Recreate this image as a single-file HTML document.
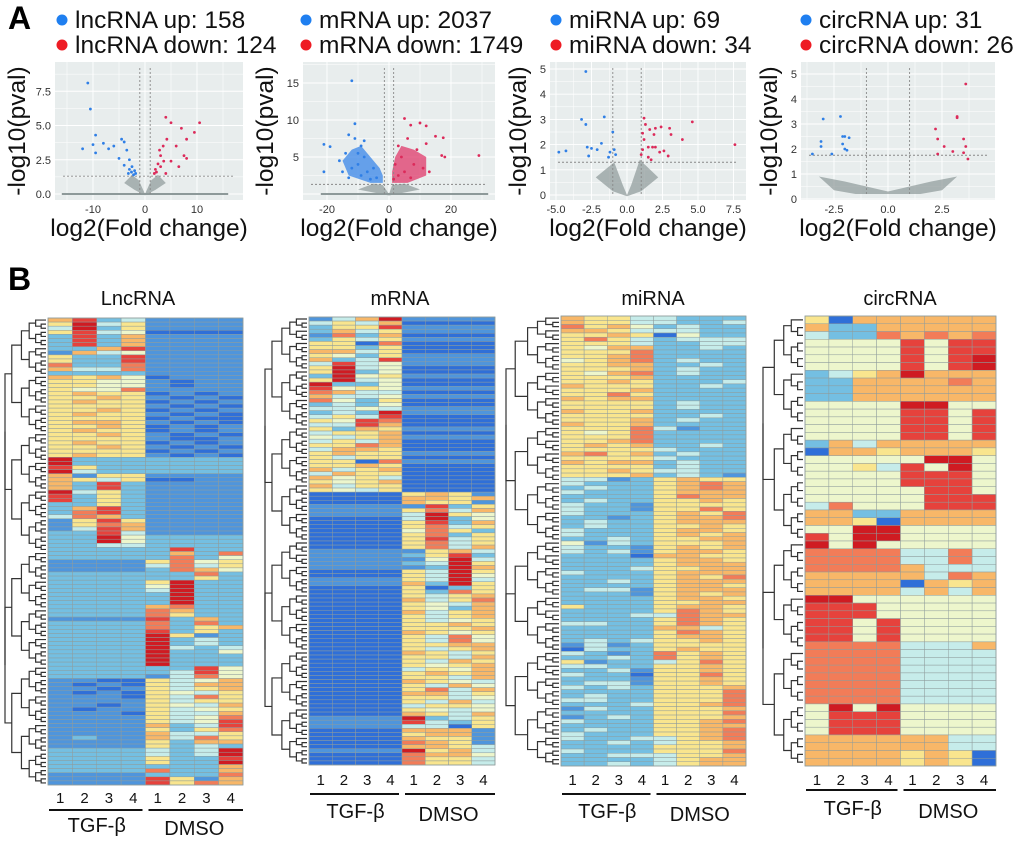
<!DOCTYPE html>
<html><head><meta charset="utf-8"><style>
html,body{margin:0;padding:0;background:#fff;}
svg{display:block;font-family:"Liberation Sans",Arial,sans-serif;}
</style></head><body>
<svg id="fig" width="1020" height="844" viewBox="0 0 1020 844" xmlns="http://www.w3.org/2000/svg">
<text x="8" y="29" font-size="32" font-weight="bold">A</text>
<text x="8" y="290" font-size="32" font-weight="bold">B</text>
<g id="volcanoes"></g>
<g id="heatmaps"></g>
</svg>
<script>
const NS="http://www.w3.org/2000/svg";
// ---------- Volcano data ----------
const lncBlue=[[-11,8.1],[-10.5,6.2],[-12,3.3],[-9.5,4.3],[-10,3.6],[-9.5,3.0],[-8,3.7],[-7,3.3],[-6,3.5],[-4.5,4],[-4,3.8],[-3.5,3.2],[-3,2.5],[-2.5,2],[-2,1.7],[-3,1.8],[-2.2,1.4],[-4,2.1],[-1.8,1.5],[-2.6,1.6],[-5,2.6],[-3.2,1.5]];
const lncRed=[[4,5.6],[5,5.2],[7,4.8],[10.5,5.2],[8,4.0],[9.5,4.5],[4.2,4.0],[3.5,3.5],[6,3.5],[7.5,2.8],[8,2.6],[3,2.8],[2.5,2.2],[2,1.8],[1.8,1.5],[2.2,1.6],[3,2.0],[5,2.4],[4,1.5],[6.5,2.0],[2.8,3.2],[3.6,2.4]];
const mBlue=[[-12,15.3],[-11,9.5],[-21,6.7],[-19,6.4],[-21,3],[-13,8],[-11,7.5],[-9,6.5],[-14,5.5],[-16,4.5],[-10,4],[-8,5],[-7,3],[-12,3.5],[-9,2.5],[-6,2],[-5,3.5],[-4,2.2],[-15,3],[-13,2.2],[-8,7.2],[-10,5.5]];
const mRed=[[5,10.2],[10,9.6],[12,9.2],[7,9.3],[15,7.8],[17.5,7.6],[29,5.2],[17,5.2],[18,5],[12,6.8],[6,7.5],[9,6],[3,6.5],[4,5],[8,4],[11,3.5],[2,4],[5,3],[3,2.5],[7,2.2],[1.5,2],[13,3]];
const mBlueCloud=[[-2,1.5],[-6,1.5],[-13,2.5],[-15,4.5],[-12,6],[-9,6.5],[-6,5],[-3,3.5],[-2,2.5]];
const mRedCloud=[[1,1.5],[6,1.5],[12,2.5],[12,5],[8,6],[4,6.5],[2,5],[1,3]];
const miBlue=[[-2.9,4.9],[-3.2,3],[-2.9,2.8],[-1.6,3.1],[-4.8,1.7],[-4.3,1.75],[-2.8,1.9],[-2.5,1.85],[-2.1,1.8],[-1.8,2.05],[-2.7,1.55],[-1.3,1.5],[-1.2,1.7],[-0.9,1.8],[-0.8,1.6],[-1,2.5]];
const miRed=[[4.6,2.9],[7.6,2.0],[3.9,2.2],[3,2.65],[3.1,2.4],[2.4,2.7],[1.2,3.05],[1.3,2.8],[1.6,2.6],[1.9,2.4],[2.0,2.65],[1.1,2.45],[1.2,2.2],[1.1,1.8],[1.5,1.9],[1.8,1.9],[2.0,1.9],[2.3,1.7],[2.6,1.75],[2.9,1.55],[1.5,1.5],[1.7,1.4],[1.0,1.6]];
const ciBlue=[[-3.0,3.2],[-2.2,3.3],[-3.1,2.3],[-3.1,2.1],[-2.1,2.5],[-2.0,2.5],[-1.8,2.45],[-2.1,2.2],[-2.0,2.0],[-1.9,1.95],[-2.6,1.8],[-3.5,1.8]];
const ciRed=[[3.6,4.6],[3.2,3.3],[3.2,3.25],[2.2,2.8],[2.3,2.4],[2.6,2.1],[3.5,2.4],[3.6,2.1],[3.0,1.9],[3.5,1.85],[2.3,1.8],[3.7,1.6]];
const lncCloud=[[-2.5,1.4],[-1.2,1.0],[0,0],[1.2,1.0],[2.5,1.4],[4,0.8],[2,0.3],[0,-0.1],[-2,0.3],[-4,0.8]];
const mCloud=[[-5,1.4],[-2,1.2],[0,0],[1,1.2],[5,1.4],[10,0.6],[0,-0.2],[-10,0.6]];
const miCloud=[[-2.2,0.7],[-0.9,1.3],[-0.3,0.4],[0,0],[0.3,0.4],[0.9,1.4],[2.2,0.7],[1,0.15],[0,-0.05],[-1,0.15]];
const ciCloud=[[-3.2,0.9],[-2,0.7],[-1,0.5],[0,0.3],[1,0.5],[2,0.7],[3.2,0.9],[2.5,0.35],[1.5,0.2],[-1.5,0.2],[-2.5,0.35]];

const panels=[
 {name:"lncrna",up:"lncRNA up: 158",down:"lncRNA down: 124",lx:62,x0:55,x1:243,y0:62,y1:200,xz:145,xs:5.2,yz:194,ys:13.7,
  xt:[-10,0,10],xl:["-10","0","10"],yt:[0,2.5,5,7.5],yl:["0.0","2.5","5.0","7.5"],th:1.3,vx:[-1,1],blue:lncBlue,red:lncRed,cloud:lncCloud,base:[-16,16]},
 {name:"mrna",up:"mRNA up: 2037",down:"mRNA down: 1749",lx:306,x0:303,x1:495,y0:62,y1:200,xz:389,xs:3.1,yz:194,ys:7.4,
  xt:[-20,0,20],xl:["-20","0","20"],yt:[5,10,15],yl:["5","10","15"],th:1.3,vx:[-1.5,1.5],blue:mBlue,red:mRed,cloud:mCloud,base:[-22,32],bc:mBlueCloud,rc:mRedCloud},
 {name:"mirna",up:"miRNA up: 69",down:"miRNA down: 34",lx:556,x0:550,x1:746,y0:62,y1:200,xz:627,xs:14.2,yz:195,ys:25.2,
  xt:[-5,-2.5,0,2.5,5,7.5],xl:["-5.0","-2.5","0.0","2.5","5.0","7.5"],yt:[0,1,2,3,4,5],yl:["0","1","2","3","4","5"],th:1.3,vx:[-1,1],blue:miBlue,red:miRed,cloud:miCloud},
 {name:"circrna",up:"circRNA up: 31",down:"circRNA down: 26",lx:806,x0:801,x1:995,y0:62,y1:200,xz:888,xs:21.6,yz:199,ys:25,
  xt:[-2.5,0,2.5],xl:["-2.5","0.0","2.5"],yt:[0,1,2,3,4,5],yl:["0","1","2","3","4","5"],th:1.75,vx:[-1,1],blue:ciBlue,red:ciRed,cloud:ciCloud}
];
function mk(tag,attrs,parent,text){const e=document.createElementNS(NS,tag);for(const k in attrs)e.setAttribute(k,attrs[k]);if(text!==undefined)e.textContent=text;parent.appendChild(e);return e;}
const vg=document.getElementById('volcanoes');
panels.forEach(p=>{
 const g=mk('g',{},vg);
 
 
 const X=v=>p.xz+p.xs*v, Y=v=>p.yz-p.ys*v;
 const d1=mk('circle',{cx:p.lx,cy:20,r:5.5,fill:'#1f7ff0'},g);
 
 const t1=mk('text',{x:p.lx+13,y:28,'font-size':24.5,fill:'#111'},g,p.up);
 
 const d2=mk('circle',{cx:p.lx,cy:45,r:5.5,fill:'#ee1c24'},g);
 
 const t2=mk('text',{x:p.lx+13,y:53,'font-size':24.5,fill:'#111'},g,p.down);
 
 const bg=mk('rect',{x:p.x0,y:p.y0,width:p.x1-p.x0,height:p.y1-p.y0,fill:'#e8eded'},g);
 
 const clipId='c'+p.name;const cp=mk('clipPath',{id:clipId},g);mk('rect',{x:p.x0,y:p.y0,width:p.x1-p.x0,height:p.y1-p.y0},cp);
 const inner=mk('g',{'clip-path':'url(#'+clipId+')'},g);
 const xstep=p.xt[1]-p.xt[0], ystep=p.yt[1]-p.yt[0];
 for(let v=p.xt[0]-2*xstep;v<=p.xt[p.xt.length-1]+2*xstep+1e-9;v+=xstep/2){mk('line',{x1:X(v),x2:X(v),y1:p.y0,y2:p.y1,stroke:'#fff','stroke-width':(Math.abs((v-p.xt[0])/xstep%1)<1e-6)?0.9:0.5},inner);}
 for(let v=p.yt[0]-2*ystep;v<=p.yt[p.yt.length-1]+2*ystep+1e-9;v+=ystep/2){mk('line',{x1:p.x0,x2:p.x1,y1:Y(v),y2:Y(v),stroke:'#fff','stroke-width':(Math.abs((v-p.yt[0])/ystep%1)<1e-6)?0.9:0.5},inner);}
 const cl=mk('polygon',{points:p.cloud.map(q=>X(q[0])+','+Y(q[1])).join(' '),fill:'#8d9999',opacity:0.7},inner);
 
 if(p.base){const bl=mk('line',{x1:X(p.base[0]),x2:X(p.base[1]),y1:Y(0),y2:Y(0),stroke:'#8d9999','stroke-width':2},inner);
  }
 if(p.bc){const a=mk('polygon',{points:p.bc.map(q=>X(q[0])+','+Y(q[1])).join(' '),fill:'#3a86e8',opacity:0.75},inner);
  
  const b=mk('polygon',{points:p.rc.map(q=>X(q[0])+','+Y(q[1])).join(' '),fill:'#e0386a',opacity:0.75},inner);
  }
 mk('line',{x1:p.x0+8,x2:p.x1-8,y1:Y(p.th),y2:Y(p.th),stroke:'#888','stroke-width':0.9,'stroke-dasharray':'2,2'},inner);
 p.vx.forEach(v=>mk('line',{x1:X(v),x2:X(v),y1:p.y0+6,y2:p.y1-4,stroke:'#888','stroke-width':0.9,'stroke-dasharray':'2,2'},inner));
 p.blue.forEach(q=>{const c=mk('circle',{cx:X(q[0]),cy:Y(q[1]),r:1.4,fill:'#2f7fe6'},inner);
  });
 p.red.forEach(q=>{const c=mk('circle',{cx:X(q[0]),cy:Y(q[1]),r:1.4,fill:'#dc2a5a'},inner);
  });
 p.xt.forEach((v,i)=>{const t=mk('text',{x:X(v),y:p.y1+13,'font-size':11,'text-anchor':'middle',fill:'#333'},g,p.xl[i]);
  });
 p.yt.forEach((v,i)=>{const t=mk('text',{x:p.x0-4,y:Y(v)+4,'font-size':11,'text-anchor':'end',fill:'#333'},g,p.yl[i]);
  });
 const xt=mk('text',{x:(p.x0+p.x1)/2,y:236,'font-size':24.5,'text-anchor':'middle',fill:'#111'},g,'log2(Fold change)');
 
 const yc=p.x0-(p.name==='mirna'||p.name==='circrna'?24:30);
 const yt=mk('text',{x:yc,y:131,'font-size':24.5,'text-anchor':'middle',fill:'#111',transform:'rotate(-90 '+yc+' 131)'},g,'-log10(pval)');
 
});

// ---------- Heatmap data (levels 0=deep blue ... 9=dark red) ----------
const lncRows=["68231111","59351111","39251111","58340000","28261111","28261111","28261111","22681111","16341111","52281111","52281111","72271111","63371111","22221111","65640111","55441011","55441011","54471111",
"56550101","55651010","56550101","55551010","55650101","56551010","55550100","56651010","55650101","56550101","55651010","55551001","56550101","55651010","55550101","56551010",
"92222222","92222222","85222222","93222222","61551111","65350011","62821111","62821111","93521111","82521111","82521111","22521111","26821111","27821111","37621111","15851111","15761111","13861111","22831111","22942222","22942222","22332222",
"22222822","22222627","22222724","11115745","11113735","11112764","22222272","22222252","22225922","22224922","22223922","22222922","22222922","22222922","22226722","22227622","22227522",
"11118262","22227272","22227256","22228252","22229512","22229232","22229232","22229323","22229224","22229222","22229222","22229222","22222284","22222384","22221374",
"11005346","10105366","11015356","10105435","11105375","11115355","11015436","10115345","11105336","11115347","11115348","11116238","11115257","11116335","12116375","11115266","11115232",
"22223239","22223239","22225228","22225229","22222226","22227226","11112227","11118516","11118576"];
const mRows=["13691111","35360000","25581111","26351111","17260000","25351111","55070000","55250000","66350000","54251111","62381111","38341111","59340000","59240000","29451111","59340000","92240000","84541111","76330000","63341111","74250000","23240000","33431111",
"23291111","35380000","54870000","33860000","52651111","35560000","43561111","35360000","55760000","36650000","56551111","53550000","55071111","55650000","63560000","36550000","64530000","54560000","63550000","54350000",
"00005651","00006656","00006551","11111825","11115736","11113954","00003924","00005826","00005735","00004752","00005725","00005835","00005735","00005736","11111563","11112582","11111493","11112395","11111296","00005395","00005394","11115393","11116295",
"00005025","00005275","00005356","00006357","00005436","00005426","00006356","00005356","00005345","00005565","00005556","00006545","00005374","00005374","00005566","00005356","00006535","00005536","00005365","00005456","00003546","00005656","00005536","00006543",
"00005364","00005736","00006635","00005534","00005363","00003554","00005434","00006536","11119235","11118325","11113305","00006661","00005661","00006551","00007651","00006653","11119563","00007664","00007553","00007553"];
const miRows=["65533222","65533223","75642322","66533322","55650422","57532333","55532233","54662232","55572222","55672222","45672322","55662232","55562322","54672322","55562222","55652223","65552232","55562222","55752222","65662222","55552322","55552322","65562222","55552232","55562322","65562222","55573122","54572222","55572222","55672222","56562232","55553222","67562322","55553222","65662322","55552322","55653322","55562321",
"33125655","32225676","23225676","32225666","22225766","23225565","32215555","32215575","32225657","22125667","23225666","23225565","32225665","32225656","22325566","41325556","32215656","32315665","22206655","22225665","22225666","22235566","32225666","22225657","22325666","22225665","23315666","22215656","22225665","22225566",
"52225665","22225765","22233766","22225765","33225765","22226635","22225765","22225665","23235565",
"13125555","03225655","32127565","22327565","51223575","33225565","22315565","32205575","22215565","23315565","32325556","22225557","23225557","33225557","22235567","13225556","22225557","12325556","32225567","22225566","23225567","32225567","32233567","22323556","22225556","32225557","22333556","22223566","22323566"];
const ciRows=["50666666","62266666","32276767","44448488","44448488","44448489","44448489","23569666","22666676","22666666","22666666","44449944","44448848","44448848","44448848","44448848","26366666","06656665","44444994","44538494","44448884","44448884","44444884","44444888","37444888","66226666","66506666","44994444","84994444","94944444","77773373","77773373","77776333","66666376","66660656","66663636","99444444","88844444","88844444","88484444","88484444","88484444","77773336","77773333","77773333","77773333","77773333","77773333","77773333","77773333","49494444","48884444","48884444","48884444","66666633","66666633","66665650","66665650"];
const palette=["#2f6fd8","#4f95dc","#74bfe2","#c6ecea","#edf6cc","#f9e58e","#f8b768","#f27c58","#e6423c","#cf1b22"];
const heatmaps=[
 {name:"lncrna",title:"LncRNA",rows:lncRows,x0:48,x1:243,y0:318,y1:785,dx0:5,numY:803,lineY:810,grpY:832,tx:138},
 {name:"mrna",title:"mRNA",rows:mRows,x0:309,x1:495,y0:317,y1:765,dx0:265,numY:785,lineY:794,grpY:818,tx:400},
 {name:"mirna",title:"miRNA",rows:miRows,x0:561,x1:746,y0:316,y1:766,dx0:506,numY:785,lineY:794,grpY:818,tx:653},
 {name:"circrna",title:"circRNA",rows:ciRows,x0:805,x1:996,y0:316,y1:766,dx0:763,numY:785,lineY:790,grpY:815,tx:900}
];
const hg=document.getElementById('heatmaps');
heatmaps.forEach(h=>{
 const g=mk('g',{},hg);
 
 
 const tt=mk('text',{x:h.tx,y:305,'font-size':20,'text-anchor':'middle',fill:'#111'},g,h.title);
 
 const n=h.rows.length, rh=(h.y1-h.y0)/n, cw=(h.x1-h.x0)/8;
 h.rows.forEach((r,i)=>{for(let j=0;j<8;j++){
  const c=mk('rect',{x:h.x0+j*cw,y:h.y0+i*rh,width:cw,height:rh,fill:palette[+r[j]],stroke:'#8f9c9c','stroke-width':0.5},g);
  }});
 mk('rect',{x:h.x0,y:h.y0,width:h.x1-h.x0,height:h.y1-h.y0,fill:'none',stroke:'#8f9c9c','stroke-width':0.8},g);
 const dg=mk('g',{stroke:'#333','stroke-width':1.2,fill:'none'},g);
 
 const span=h.x0-h.dx0;
 function tree(a,b,depth){
  if(b-a<=1){return {y:h.y0+(a+0.5)*rh,x:h.x0-2};}
  const m=Math.floor((a+b)/2);const L=tree(a,m,depth+1),R=tree(m,b,depth+1);
  const x=Math.max(h.dx0,Math.min(L.x,R.x)-span*(0.9/ (depth+2)));
  mk('path',{d:'M'+L.x+','+L.y+'H'+x+'V'+R.y+'H'+R.x},dg);
  return {y:(L.y+R.y)/2,x:x};
 }
 tree(0,n,0);
 ["1","2","3","4","1","2","3","4"].forEach((s,j)=>{const t=mk('text',{x:h.x0+(j+0.5)*cw,y:h.numY,'font-size':15,'text-anchor':'middle',fill:'#111'},g,s);
  });
 const l1=mk('line',{x1:h.x0+1,x2:h.x0+4*cw-3,y1:h.lineY,y2:h.lineY,stroke:'#111','stroke-width':2},g);
 
 const l2=mk('line',{x1:h.x0+4*cw+3,x2:h.x1,y1:h.lineY,y2:h.lineY,stroke:'#111','stroke-width':2},g);
 
 const g1=mk('text',{x:h.x0+2*cw,y:h.grpY,'font-size':20,'text-anchor':'middle',fill:'#111'},g,'TGF-β');
 
 const g2=mk('text',{x:h.x0+6*cw,y:h.grpY+3,'font-size':20,'text-anchor':'middle',fill:'#111'},g,'DMSO');
 
});
</script>
</body></html>
